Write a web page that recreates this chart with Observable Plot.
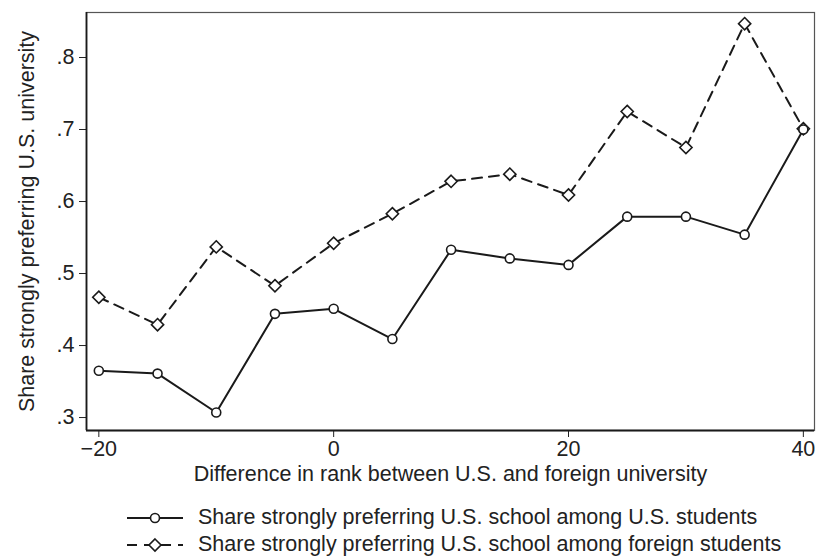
<!DOCTYPE html>
<html><head><meta charset="utf-8">
<script src="https://cdn.jsdelivr.net/npm/d3@7"></script>
<script src="https://cdn.jsdelivr.net/npm/@observablehq/plot@0.6"></script>
<style>
body{margin:0;background:#fff;font-family:"Liberation Sans",Arial,sans-serif;}
#wrap{position:relative;width:817px;height:560px;background:#fff;}
#chart{position:absolute;left:0;top:0;}
.legend{position:absolute;left:127px;top:504px;font-size:21.5px;color:#222;}
.row{display:flex;align-items:center;height:27px;white-space:nowrap;}
.row svg{margin-right:15px;}
</style></head><body><div id="wrap"><div id="chart"></div><div class="legend" id="legend"></div></div>
<script>
const rank = [-20, -15, -10, -5, 0, 5, 10, 15, 20, 25, 30, 35, 40];
const usStudents = [0.365, 0.361, 0.307, 0.444, 0.451, 0.409, 0.533, 0.521, 0.512, 0.579, 0.579, 0.554, 0.700];
const foreignStudents = [0.467, 0.429, 0.537, 0.483, 0.542, 0.583, 0.628, 0.638, 0.609, 0.725, 0.675, 0.847, 0.701];
const yTicks = [0.3, 0.4, 0.5, 0.6, 0.7, 0.8];
const xTicks = [-20, 0, 20, 40];
const seriesNames = ["Share strongly preferring U.S. school among U.S. students", "Share strongly preferring U.S. school among foreign students"];
const xLabel = "Difference in rank between U.S. and foreign university";
const yLabel = "Share strongly preferring U.S. university";

const us = rank.map((r, i) => ({rank: r, share: usStudents[i]}));
const fo = rank.map((r, i) => ({rank: r, share: foreignStudents[i]}));
const ink = "#1a1a1a";

const chart = Plot.plot({
  width: 817, height: 495,
  marginLeft: 86, marginRight: 3, marginTop: 12, marginBottom: 65,
  style: {fontFamily: "'Liberation Sans', Arial, sans-serif", fontSize: "21.5px", color: "#222", background: "white"},
  x: {domain: [-21.05, 40.95]},
  y: {domain: [0.282, 0.8625]},
  marks: [
    Plot.frame({stroke: "#555", strokeWidth: 1.2}),
    Plot.axisX({ticks: xTicks, tickSize: 7, tickPadding: 3, tickFormat: d => d3.format("d")(d), label: xLabel, labelAnchor: "center", labelArrow: false, labelOffset: 50, fontSize: 21.5}),
    Plot.axisY({ticks: yTicks, tickSize: 7, tickPadding: 5, tickFormat: d => String(d).replace(/^0/, ""), label: yLabel, labelAnchor: "center", labelArrow: false, labelOffset: 68, fontSize: 21.5}),
    Plot.ruleX([-21.05], {stroke: ink, strokeWidth: 1.8}),
    Plot.ruleY([0.282], {stroke: ink, strokeWidth: 1.8}),
    Plot.line(fo, {x: "rank", y: "share", stroke: ink, strokeWidth: 2, strokeDasharray: "10,7"}),
    Plot.line(us, {x: "rank", y: "share", stroke: ink, strokeWidth: 2}),
    Plot.dot(fo, {x: "rank", y: "share", symbol: "diamond2", r: 5.5, fill: "white", stroke: ink, strokeWidth: 1.6}),
    Plot.dot(us, {x: "rank", y: "share", r: 4.5, fill: "white", stroke: ink, strokeWidth: 1.6})
  ]
});
document.getElementById("chart").appendChild(chart);

const legend = document.getElementById("legend");
seriesNames.forEach((name, i) => {
  const row = document.createElement("div");
  row.className = "row";
  const dash = i === 0 ? "" : "stroke-dasharray='10,7'";
  const marker = i === 0
    ? "<circle cx='28' cy='13' r='4.5' fill='white' stroke='#1a1a1a' stroke-width='1.6'/>"
    : "<path d='M28,7 L34,13 L28,19 L22,13 Z' fill='white' stroke='#1a1a1a' stroke-width='1.6'/>";
  row.innerHTML = `<svg width="56" height="26"><line x1="0" y1="13" x2="56" y2="13" stroke="#1a1a1a" stroke-width="2" ${dash}/>${marker}</svg><span>${name}</span>`;
  legend.appendChild(row);
});
</script>
</body></html>
